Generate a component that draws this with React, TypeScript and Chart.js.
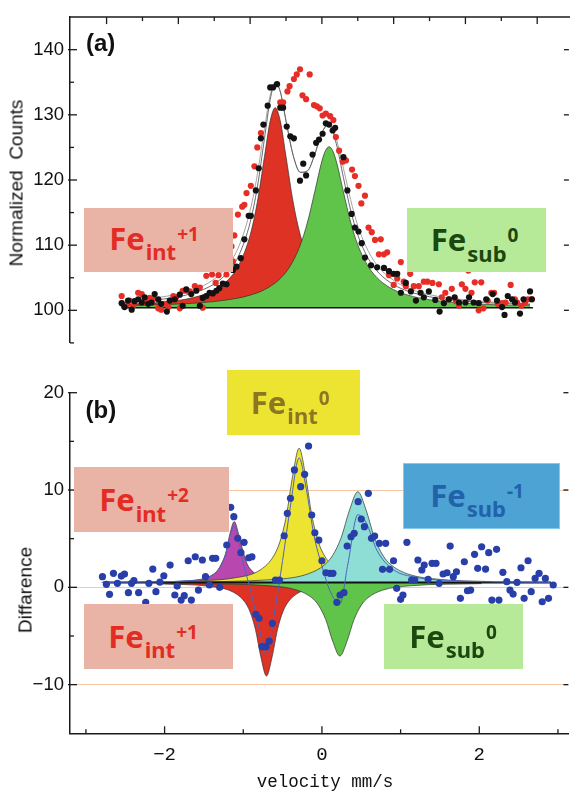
import React, { useEffect, useRef } from "react";
import { Chart, registerables } from "chart.js";

Chart.register(...registerables);

// ---------- (a) top panel data : [velocity, counts] ----------
const TOP_BLACK: [number, number][] = [
  [-2.79,101.1],[-2.75,100.5],[-2.70,101.5],[-2.65,100.1],[-2.61,101.4],[-2.56,101.7],[-2.51,101.2],[-2.47,102.0],
  [-2.42,101.0],[-2.375,101.2],[-2.33,102.5],[-2.28,101.7],[-2.24,101.0],[-2.16,99.8],[-2.12,101.5],[-2.05,101.7],
  [-1.98,102.4],[-1.94,100.7],[-1.89,103.2],[-1.82,102.5],[-1.75,103.0],[-1.70,100.7],[-1.66,101.9],[-1.61,102.2],
  [-1.565,102.7],[-1.52,102.6],[-1.47,103.0],[-1.43,103.4],[-1.38,104.1],[-1.33,104.0],[-1.24,106.2],[-1.19,106.7],
  [-1.13,108.0],[-1.08,110.9],[-1.02,114.5],[-0.99,114.5],[-0.92,118.4],[-0.88,121.8],[-0.85,126.4],[-0.815,128.5],
  [-0.755,131.4],[-0.72,134.2],[-0.68,134.2],[-0.625,134.7],[-0.58,131.1],[-0.54,131.1],[-0.49,128.2],[-0.44,126.7],
  [-0.39,126.4],[-0.305,119.9],[-0.26,122.5],[-0.22,120.7],[-0.13,123.9],[-0.08,125.7],[-0.04,126.2],[0.01,127.1],
  [0.055,128.7],[0.10,128.5],[0.15,127.6],[0.185,128.0],[0.30,123.5],[0.355,118.4],[0.415,114.8],[0.46,112.7],
  [0.51,112.1],[0.555,110.3],[0.60,108.1],[0.685,106.9],[0.77,106.6],[0.865,106.5],[0.935,106.0],[1.00,105.6],
  [1.05,105.6],[1.10,102.7],[1.17,104.2],[1.24,102.9],[1.31,101.5],[1.375,102.7],[1.42,102.0],[1.49,102.9],
  [1.58,101.6],[1.64,99.8],[1.70,101.1],[1.77,101.7],[1.85,102.0],[1.91,101.2],[2.00,101.2],[2.05,102.0],
  [2.115,101.2],[2.185,101.1],[2.29,101.7],[2.38,102.5],[2.44,101.5],[2.51,100.5],[2.545,99.3],[2.59,102.2],
  [2.65,101.7],[2.69,101.2],[2.76,99.5],[2.81,101.7],[2.90,102.9],[2.925,101.7],
];

const TOP_RED: [number, number][] = [
  [-2.79,102.2],[-2.72,100.9],[-2.68,101.5],[-2.63,100.7],[-2.56,102.7],[-2.51,102.5],[-2.47,101.6],[-2.40,101.9],
  [-2.35,101.7],[-2.28,100.3],[-2.24,100.1],[-2.19,101.0],[-2.14,100.5],[-2.07,102.2],[-2.03,102.0],[-1.98,100.3],
  [-1.94,103.0],[-1.89,103.0],[-1.84,102.9],[-1.77,103.7],[-1.70,103.5],[-1.66,100.4],[-1.61,105.3],[-1.53,105.5],
  [-1.48,104.2],[-1.44,105.4],[-1.33,105.5],[-1.26,109.8],[-1.24,107.5],[-1.22,111.5],[-1.17,114.7],[-1.11,115.9],
  [-1.08,116.2],[-1.05,118.0],[-0.99,119.1],[-0.94,122.1],[-0.90,125.0],[-0.85,127.2],[-0.58,131.9],[-0.54,131.9],
  [-0.48,133.6],[-0.45,134.4],[-0.39,135.5],[-0.35,136.2],[-0.305,137.0],[-0.27,133.0],[-0.22,132.4],[-0.17,136.2],
  [-0.11,131.5],[-0.07,131.3],[-0.03,131.0],[0.01,129.9],[0.055,130.2],[0.115,129.8],[0.16,129.2],[0.195,126.6],
  [0.24,124.5],[0.29,122.8],[0.335,123.0],[0.42,121.6],[0.46,120.6],[0.51,119.1],[0.55,116.4],[0.60,117.6],
  [0.65,112.7],[0.695,112.0],[0.74,110.8],[0.795,108.6],[0.82,110.9],[0.865,108.6],[0.91,108.9],[0.935,105.4],
  [1.00,103.9],[1.05,104.9],[1.10,107.4],[1.14,104.4],[1.17,103.7],[1.23,105.6],[1.28,103.7],[1.35,103.7],
  [1.42,104.4],[1.47,104.4],[1.54,104.2],[1.63,104.0],[1.67,102.0],[1.72,102.7],[1.77,101.7],[1.81,103.3],
  [1.87,101.4],[1.91,100.7],[1.95,104.0],[2.00,103.3],[2.04,106.1],[2.085,102.7],[2.13,104.3],[2.185,100.0],
  [2.22,104.3],[2.25,100.3],[2.31,101.5],[2.36,102.7],[2.40,102.7],[2.45,101.0],[2.51,101.1],[2.56,101.2],
  [2.63,103.9],[2.69,101.7],[2.72,101.2],[2.78,100.7],[2.83,101.2],[2.87,101.7],[2.925,101.7],
];

const TOP_FIT: [number, number][] = [
  [-2.8,101.15],[-2.2,101.74],[-1.8,102.62],[-1.5,104.05],[-1.3,105.98],[-1.15,108.61],[-1.0,113.46],[-0.9,118.87],
  [-0.8,126.37],[-0.72,132.34],[-0.65,134.91],[-0.58,133.56],[-0.5,129.07],[-0.4,123.76],[-0.3,121.17],[-0.2,121.41],
  [-0.1,123.92],[0,127.25],[0.1,128.49],[0.2,125.6],[0.3,120.37],[0.4,115.38],[0.5,111.58],[0.65,107.87],
  [0.8,105.66],[1.0,103.94],[1.2,102.94],[1.5,102.08],[2.0,101.38],[2.5,101.05],[2.9,100.89],
];

const TOP_FIT2: [number, number][] = [
  [-2.8,101.4],[-2.2,102.1],[-1.8,103.1],[-1.5,104.8],[-1.3,107.0],[-1.15,110.0],[-1.0,115.3],[-0.9,120.8],
  [-0.8,127.9],[-0.72,133.0],[-0.65,135.0],[-0.58,133.6],[-0.5,129.1],[-0.4,123.8],[-0.3,121.2],[-0.2,121.4],
  [-0.1,123.9],[0,127.3],[0.1,128.6],[0.2,126.3],[0.3,121.8],[0.4,117.0],[0.5,113.0],[0.65,109.0],
  [0.8,106.5],[1.0,104.6],[1.2,103.4],[1.5,102.4],[2.0,101.6],[2.5,101.2],[2.9,101.0],
];

const TOP_FE_INT1: [number, number][] = [
  [-2.8,100.86],[-2.2,101.27],[-1.8,101.94],[-1.5,103.10],[-1.3,104.75],[-1.15,107.09],[-1.0,111.53],[-0.9,116.58],
  [-0.8,123.6],[-0.72,129.08],[-0.65,131.1],[-0.58,129.08],[-0.5,123.6],[-0.4,116.58],[-0.3,111.53],[-0.2,108.26],
  [-0.1,106.15],[0,104.75],[0.2,103.10],[0.5,101.94],[1.0,101.17],[2.0,100.70],[2.9,100.57],
];

const TOP_FE_SUB0: [number, number][] = [
  [-2.8,100.70],[-2.2,100.87],[-1.8,101.08],[-1.5,101.35],[-1.2,101.81],[-1.0,102.33],[-0.8,103.17],[-0.6,104.67],
  [-0.45,106.65],[-0.3,110.04],[-0.2,113.55],[-0.1,118.17],[0,122.9],[0.05,124.51],[0.1,125.1],[0.15,124.51],
  [0.2,122.9],[0.3,118.17],[0.4,113.55],[0.5,110.04],[0.65,106.65],[0.8,104.67],[1.0,103.17],[1.2,102.33],
  [1.5,101.63],[2.0,101.08],[2.5,100.83],[2.9,100.72],
];

const TOP_BASE: [number, number][] = [[-2.79,100.4],[2.94,100.4]];
const TOP_FILL_BASE = 100.4;

// ---------- (b) bottom panel data : [velocity, difference] ----------
const BOT_BLUE: [number, number][] = [
  [-2.79,1.09],[-2.74,0.31],[-2.70,-0.72],[-2.65,1.44],[-2.60,0.41],[-2.55,1.16],[-2.51,1.37],[-2.46,-0.55],
  [-2.42,0.41],[-2.39,0.68],[-2.33,-0.55],[-2.24,-1.54],[-2.20,0.41],[-2.15,1.88],[-2.11,-0.45],[-2.06,0.54],
  [-2.01,1.19],[-1.93,2.29],[-1.87,-0.79],[-1.84,0.13],[-1.79,-1.31],[-1.75,-0.86],[-1.70,2.73],[-1.66,-1.31],
  [-1.61,3.14],[-1.57,-0.28],[-1.52,2.81],[-1.48,1.09],[-1.43,0.24],[-1.39,2.98],[-1.35,2.98],[-1.30,0.0],
  [-1.21,4.35],[-1.16,8.22],[-1.12,7.26],[-1.07,5.04],[-1.03,3.56],[-0.99,4.62],[-0.93,3.04],[-0.89,3.14],
  [-0.84,-2.77],[-0.80,-3.19],[-0.76,-6.10],[-0.71,-6.10],[-0.67,-5.52],[-0.63,-3.70],[-0.59,0.75],[-0.54,0.75],
  [-0.48,5.30],[-0.44,7.60],[-0.40,9.15],[-0.35,12.06],[-0.27,10.34],[-0.22,11.61],[-0.17,14.52],[-0.13,7.43],
  [-0.09,5.61],[-0.04,4.86],[0.00,2.73],[0.05,1.50],[0.10,1.44],[0.14,1.44],[0.19,-1.54],[0.23,-0.79],
  [0.28,-0.55],[0.32,4.24],[0.37,5.20],[0.41,5.55],[0.46,8.80],[0.50,7.02],[0.54,6.23],[0.59,9.66],
  [0.63,5.04],[0.67,5.27],[0.73,4.52],[0.77,1.85],[0.81,4.52],[0.86,1.85],[0.91,2.73],[0.95,-0.10],
  [1.00,-1.23],[1.03,-0.79],[1.08,4.62],[1.14,0.75],[1.18,0.75],[1.22,2.81],[1.27,1.78],[1.30,2.29],
  [1.35,0.82],[1.40,2.47],[1.45,2.47],[1.49,0.41],[1.54,1.37],[1.59,1.50],[1.63,4.24],[1.67,1.09],
  [1.71,1.60],[1.76,-1.13],[1.81,2.63],[1.85,-0.35],[1.89,-0.28],[1.94,3.39],[1.98,1.95],[2.03,4.17],
  [2.08,1.88],[2.12,3.56],[2.16,-1.31],[2.22,3.91],[2.25,-1.31],[2.30,1.54],[2.35,0.58],[2.39,-0.28],
  [2.43,-0.69],[2.48,0.51],[2.53,2.01],[2.57,-1.13],[2.62,2.73],[2.66,-0.45],[2.71,0.92],[2.76,1.44],
  [2.80,-1.48],[2.84,0.92],[2.88,-1.13],[2.94,0.24],
];

const BOT_FIT: [number, number][] = [
  [-2.8,0.50],[-2.2,0.55],[-1.7,0.68],[-1.4,1.20],[-1.25,2.76],[-1.114,6.29],[-1.0,2.45],[-0.9,-0.54],
  [-0.8,-4.11],[-0.705,-6.84],[-0.6,-2.41],[-0.5,2.76],[-0.4,8.37],[-0.29,13.29],[-0.2,10.17],[-0.1,5.29],
  [0,2.19],[0.1,-0.31],[0.228,-1.69],[0.33,2.41],[0.456,7.46],[0.56,6.67],[0.7,3.78],[0.9,1.86],
  [1.2,1.02],[1.6,0.71],[2.2,0.56],[2.9,0.51],
];

const BOT_FE_INT2: [number, number][] = [
  [-2.21,0.51],[-1.66,0.69],[-1.44,1.08],[-1.33,1.71],[-1.28,2.39],[-1.22,3.60],[-1.17,5.49],[-1.114,6.75],
  [-1.06,5.49],[-1.00,3.60],[-0.95,2.39],[-0.89,1.71],[-0.78,1.08],[-0.56,0.69],[-0.01,0.51],
];
const BOT_FE_INT0: [number, number][] = [
  [-1.91,0.59],[-1.10,0.98],[-0.776,1.83],[-0.614,3.22],[-0.533,4.71],[-0.452,7.37],[-0.371,11.51],[-0.29,14.28],
  [-0.209,11.51],[-0.128,7.37],[-0.047,4.71],[0.034,3.22],[0.196,1.83],[0.52,0.98],[1.33,0.59],
];
const BOT_FE_SUBM1: [number, number][] = [
  [-2.0,0.52],[-0.594,0.81],[-0.174,1.39],[0.036,2.33],[0.141,3.34],[0.246,5.14],[0.351,7.95],[0.456,9.83],
  [0.561,7.95],[0.666,5.14],[0.771,3.34],[0.876,2.33],[1.086,1.39],[1.506,0.81],[2.15,0.59],
];
const BOT_FE_INT1: [number, number][] = [
  [-2.105,0.36],[-1.405,0.08],[-1.125,-0.51],[-0.985,-1.46],[-0.915,-2.49],[-0.845,-4.34],[-0.775,-7.21],[-0.705,-9.12],
  [-0.635,-7.21],[-0.565,-4.34],[-0.495,-2.49],[-0.425,-1.46],[-0.285,-0.51],[-0.005,0.08],[0.695,0.36],
];
const BOT_FE_SUB0: [number, number][] = [
  [-1.572,0.38],[-0.672,0.16],[-0.312,-0.30],[-0.132,-1.05],[-0.042,-1.86],[0.048,-3.31],[0.138,-5.56],[0.228,-7.06],
  [0.318,-5.56],[0.408,-3.31],[0.498,-1.86],[0.588,-1.05],[0.768,-0.30],[1.128,0.16],[2.028,0.38],
];
const BOT_BASE: [number, number][] = [[-2.78,0.5],[2.91,0.5]];
const BOT_FILL_BASE = 0.45;

// ---------- ticks ----------
const TOP_Y_TICKS = [100, 110, 120, 130, 140];
const TOP_Y_MINOR = [95, 105, 115, 125, 135];
const TOP_X_MAJOR = [-3, -2, -1, 0, 1, 2, 3];
const TOP_X_MINOR = [-2.5, -1.5, -0.5, 0.5, 1.5, 2.5];
const BOT_Y_TICKS = [-10, 0, 10, 20];
const BOT_Y_MINOR = [-5, 5, 15];
const BOT_GRID = [-10, 0, 10];
const BOT_X_TICKS = [-2, 0, 2];
const BOT_X_MINOR = [-3, -1, 1, 3];

const xy = (a: [number, number][]) => a.map(([x, y]) => ({ x, y }));

const decorPlugin = {
  id: "decor",
  afterDraw(chart: any, _args: any, opts: any) {
    const { ctx, chartArea: a } = chart;
    const xs = chart.scales.x;
    const ys = chart.scales.y;
    ctx.save();
    ctx.strokeStyle = "#1a1a1a";
    ctx.lineWidth = 1.3;
    const seg = (x1: number, y1: number, x2: number, y2: number) => {
      ctx.beginPath();
      ctx.moveTo(x1, y1);
      ctx.lineTo(x2, y2);
      ctx.stroke();
    };
    if (opts.frameTop) {
      ctx.lineWidth = 1.5;
      seg(a.left - 0.75, a.top, a.right + 2, a.top);
      ctx.lineWidth = 1.3;
    }
    for (const v of opts.yMajor || []) {
      const p = ys.getPixelForValue(v);
      seg(a.left - 2, p, a.left + 7, p);
      seg(a.right - 5, p, a.right, p);
    }
    for (const v of opts.yMinor || []) {
      const p = ys.getPixelForValue(v);
      seg(a.left, p, a.left + 4, p);
    }
    for (const v of opts.xTopMajor || []) {
      const p = xs.getPixelForValue(v);
      seg(p, a.top, p, a.top + 7);
    }
    for (const v of opts.xTopMinor || []) {
      const p = xs.getPixelForValue(v);
      seg(p, a.top, p, a.top + 4);
    }
    for (const v of opts.xBotMajor || []) {
      const p = xs.getPixelForValue(v);
      seg(p, a.bottom, p, a.bottom - 7);
    }
    for (const v of opts.xBotMinor || []) {
      const p = xs.getPixelForValue(v);
      seg(p, a.bottom, p, a.bottom - 4);
    }
    ctx.restore();
  },
};

const OUTLINE = "rgba(45,45,45,0.85)";

const dots = (data: [number, number][], color: string, r: number, order: number) => ({
  data: xy(data),
  showLine: false,
  pointRadius: r,
  pointHoverRadius: r,
  pointBorderWidth: 0,
  pointBackgroundColor: color,
  pointBorderColor: color,
  order,
});
const curve = (data: [number, number][], color: string, w: number, order: number) => ({
  data: xy(data),
  borderColor: color,
  borderWidth: w,
  pointRadius: 0,
  pointHoverRadius: 0,
  cubicInterpolationMode: "monotone",
  fill: false,
  order,
});
const area = (data: [number, number][], color: string, base: number, order: number) => ({
  data: xy(data),
  borderColor: OUTLINE,
  borderWidth: 0.8,
  backgroundColor: color,
  pointRadius: 0,
  pointHoverRadius: 0,
  cubicInterpolationMode: "monotone",
  fill: { value: base },
  order,
});

const minus = (v: any) => String(v).replace("-", "\u2212");

function topConfig(): any {
  return {
    type: "line",
    data: {
      datasets: [
        dots(TOP_BLACK, "#121212", 3.1, 0),
        dots(TOP_RED, "rgb(230,46,38)", 3.1, 1),
        curve(TOP_FIT, "#5a5a5a", 0.9, 2),
        curve(TOP_FIT2, "#9a9a9a", 0.9, 3),
        curve(TOP_BASE, "#111", 1.6, 4),
        area(TOP_FE_SUB0, "rgb(96,196,74)", TOP_FILL_BASE, 5),
        area(TOP_FE_INT1, "rgb(221,50,36)", TOP_FILL_BASE, 6),
      ],
    },
    options: {
      responsive: false,
      animation: false,
      devicePixelRatio: 1,
      events: [],
      layout: { padding: { left: 0, right: 1.5, top: 10.7, bottom: 10 } },
      plugins: {
        legend: { display: false },
        tooltip: { enabled: false },
        decor: {
          frameTop: true,
          yMajor: TOP_Y_TICKS,
          yMinor: TOP_Y_MINOR,
          xTopMajor: TOP_X_MAJOR,
          xTopMinor: TOP_X_MINOR,
        },
      },
      scales: {
        x: { type: "linear", display: false, min: -3.5097, max: 3.4417 },
        y: {
          type: "linear",
          min: 95,
          max: 145,
          afterFit: (s: any) => { s.width = 70; },
          afterBuildTicks: (s: any) => { s.ticks = TOP_Y_TICKS.map((v) => ({ value: v })); },
          grid: { display: false, drawTicks: false },
          border: { display: true, color: "#1a1a1a", width: 1.5 },
          ticks: { padding: 6, color: "#111", font: { family: "'Liberation Sans', Arial, sans-serif", size: 18.5 } },
        },
      },
    },
    plugins: [decorPlugin],
  };
}

function botConfig(): any {
  return {
    type: "line",
    data: {
      datasets: [
        dots(BOT_BLUE, "rgb(40,62,168)", 3.6, 0),
        curve(BOT_FIT, "rgb(78,100,190)", 1, 1),
        curve(BOT_BASE, "#111", 2, 2),
        area(BOT_FE_SUBM1, "rgb(142,222,214)", BOT_FILL_BASE, 3),
        area(BOT_FE_INT0, "rgb(236,228,48)", BOT_FILL_BASE, 4),
        area(BOT_FE_INT2, "rgb(184,72,176)", BOT_FILL_BASE, 5),
        area(BOT_FE_SUB0, "rgb(96,196,74)", BOT_FILL_BASE, 6),
        area(BOT_FE_INT1, "rgb(221,50,36)", BOT_FILL_BASE, 7),
      ],
    },
    options: {
      responsive: false,
      animation: false,
      devicePixelRatio: 1,
      events: [],
      layout: { padding: { left: 0, right: 1.5, top: 32.7, bottom: 0 } },
      plugins: {
        legend: { display: false },
        tooltip: { enabled: false },
        decor: {
          yMajor: BOT_Y_TICKS,
          yMinor: BOT_Y_MINOR,
          xBotMajor: BOT_X_TICKS,
          xBotMinor: BOT_X_MINOR,
        },
      },
      scales: {
        x: {
          type: "linear",
          min: -3.2025,
          max: 3.1329,
          afterFit: (s: any) => { s.height = 57.7; },
          afterBuildTicks: (s: any) => { s.ticks = BOT_X_TICKS.map((v) => ({ value: v })); },
          grid: { display: false, drawTicks: false },
          border: { display: true, color: "#1a1a1a", width: 1.5 },
          ticks: {
            padding: 10,
            color: "#111",
            maxRotation: 0,
            callback: minus,
            font: { family: "'Liberation Mono', monospace", size: 19 },
          },
        },
        y: {
          type: "linear",
          min: -15,
          max: 20,
          afterFit: (s: any) => { s.width = 70; },
          afterBuildTicks: (s: any) => { s.ticks = BOT_Y_TICKS.map((v) => ({ value: v })); },
          grid: {
            drawTicks: false,
            lineWidth: 1,
            color: (c: any) => (c.tick && BOT_GRID.includes(c.tick.value) ? "rgb(248,200,166)" : "rgba(0,0,0,0)"),
          },
          border: { display: true, color: "#1a1a1a", width: 1.5 },
          ticks: {
            padding: 6,
            color: "#111",
            callback: minus,
            font: { family: "'Liberation Sans', Arial, sans-serif", size: 18.5 },
          },
        },
      },
    },
    plugins: [decorPlugin],
  };
}

type Box = [number, number, number, number];

function FeLabel(props: {
  box: Box; bg: string; border?: string; color: string; sub: string; sup: string; x: number; base: number;
}) {
  const { box, bg, border, color, sub, sup, x, base } = props;
  return (
    <>
      <div
        style={{
          position: "absolute",
          left: box[0],
          top: box[1],
          width: box[2] - box[0],
          height: box[3] - box[1],
          background: bg,
          boxSizing: "border-box",
          border: border ? `1px solid ${border}` : "none",
        }}
      />
      <div
        style={{
          position: "absolute",
          left: x - 2.5,
          top: base - 27.5,
          display: "flex",
          alignItems: "baseline",
          lineHeight: 1,
          fontFamily: "'Noto Sans', 'DejaVu Sans', sans-serif",
          fontWeight: 700,
          color,
          whiteSpace: "nowrap",
        }}
      >
        <span style={{ fontSize: 31 }}>Fe</span>
        <sub style={{ fontSize: 22, position: "relative", top: 10.5, marginLeft: 1 }}>{sub}</sub>
        <sup style={{ fontSize: 19, position: "relative", top: -9, marginLeft: 1 }}>{sup}</sup>
      </div>
    </>
  );
}

const PINK = "rgb(233,180,165)";
const LGREEN = "rgb(182,234,153)";
const RED_TXT = "rgb(226,44,36)";
const GREEN_TXT = "rgb(28,72,16)";

export default function App() {
  const topRef = useRef<HTMLCanvasElement>(null);
  const botRef = useRef<HTMLCanvasElement>(null);

  useEffect(() => {
    const a = new Chart(topRef.current as HTMLCanvasElement, topConfig());
    const b = new Chart(botRef.current as HTMLCanvasElement, botConfig());
    return () => {
      a.destroy();
      b.destroy();
    };
  }, []);

  const sans = "'Liberation Sans', Arial, sans-serif";

  return (
    <div style={{ position: "fixed", left: 0, top: 0, width: 570, height: 791, overflow: "hidden", background: "#fff" }}>
      <canvas ref={topRef} width={572} height={360} style={{ position: "absolute", left: 0, top: 0 }} />
      <canvas ref={botRef} width={572} height={431} style={{ position: "absolute", left: 0, top: 360 }} />

      {/* panel letters */}
      <div style={{ position: "absolute", left: 86, top: 51.7 - 20.3, fontFamily: sans, fontWeight: 700, fontSize: 24, lineHeight: 1, color: "#111" }}>(a)</div>
      <div style={{ position: "absolute", left: 85.5, top: 418.3 - 20.3, fontFamily: sans, fontWeight: 700, fontSize: 24, lineHeight: 1, color: "#111" }}>(b)</div>

      {/* axis titles */}
      <div style={{ position: "absolute", left: 16, top: 183, transform: "translate(-50%,-50%) rotate(-90deg)", fontFamily: sans, fontSize: 19, lineHeight: 1, whiteSpace: "pre", color: "#111" }}>
        {"Normalized  Counts"}
      </div>
      <div style={{ position: "absolute", left: 24.5, top: 590, transform: "translate(-50%,-50%) rotate(-90deg)", fontFamily: sans, fontSize: 19, lineHeight: 1, whiteSpace: "pre", color: "#111" }}>
        Diffarence
      </div>
      <div style={{ position: "absolute", left: 325, top: 787 - 13.5, transform: "translateX(-50%)", fontFamily: "'Liberation Mono', monospace", fontSize: 17.5, lineHeight: 1, whiteSpace: "pre", color: "#111" }}>
        velocity mm/s
      </div>

      {/* component labels */}
      <FeLabel box={[84, 208.3, 232.7, 272.3]} bg={PINK} color={RED_TXT} sub="int" sup="+1" x={111.7} base={250} />
      <FeLabel box={[406.7, 208.3, 545.7, 272.3]} bg={LGREEN} color={GREEN_TXT} sub="sub" sup="0" x={433.3} base={251.7} />
      <FeLabel box={[226.7, 370, 360, 435]} bg="rgb(236,228,48)" color="rgb(140,118,36)" sub="int" sup="0" x={253.3} base={414} />
      <FeLabel box={[74, 467.3, 229, 531.7]} bg={PINK} color={RED_TXT} sub="int" sup="+2" x={101.7} base={511.7} />
      <FeLabel box={[403.3, 463.3, 560, 529.3]} bg="rgb(76,163,212)" border="rgb(130,205,235)" color="rgb(34,98,170)" sub="sub" sup="-1" x={432.7} base={507.3} />
      <FeLabel box={[84, 604, 233, 668.7]} bg={PINK} color={RED_TXT} sub="int" sup="+1" x={110.7} base={648.3} />
      <FeLabel box={[384, 604, 523, 668.7]} bg={LGREEN} color={GREEN_TXT} sub="sub" sup="0" x={411.7} base={648.3} />
    </div>
  );
}
